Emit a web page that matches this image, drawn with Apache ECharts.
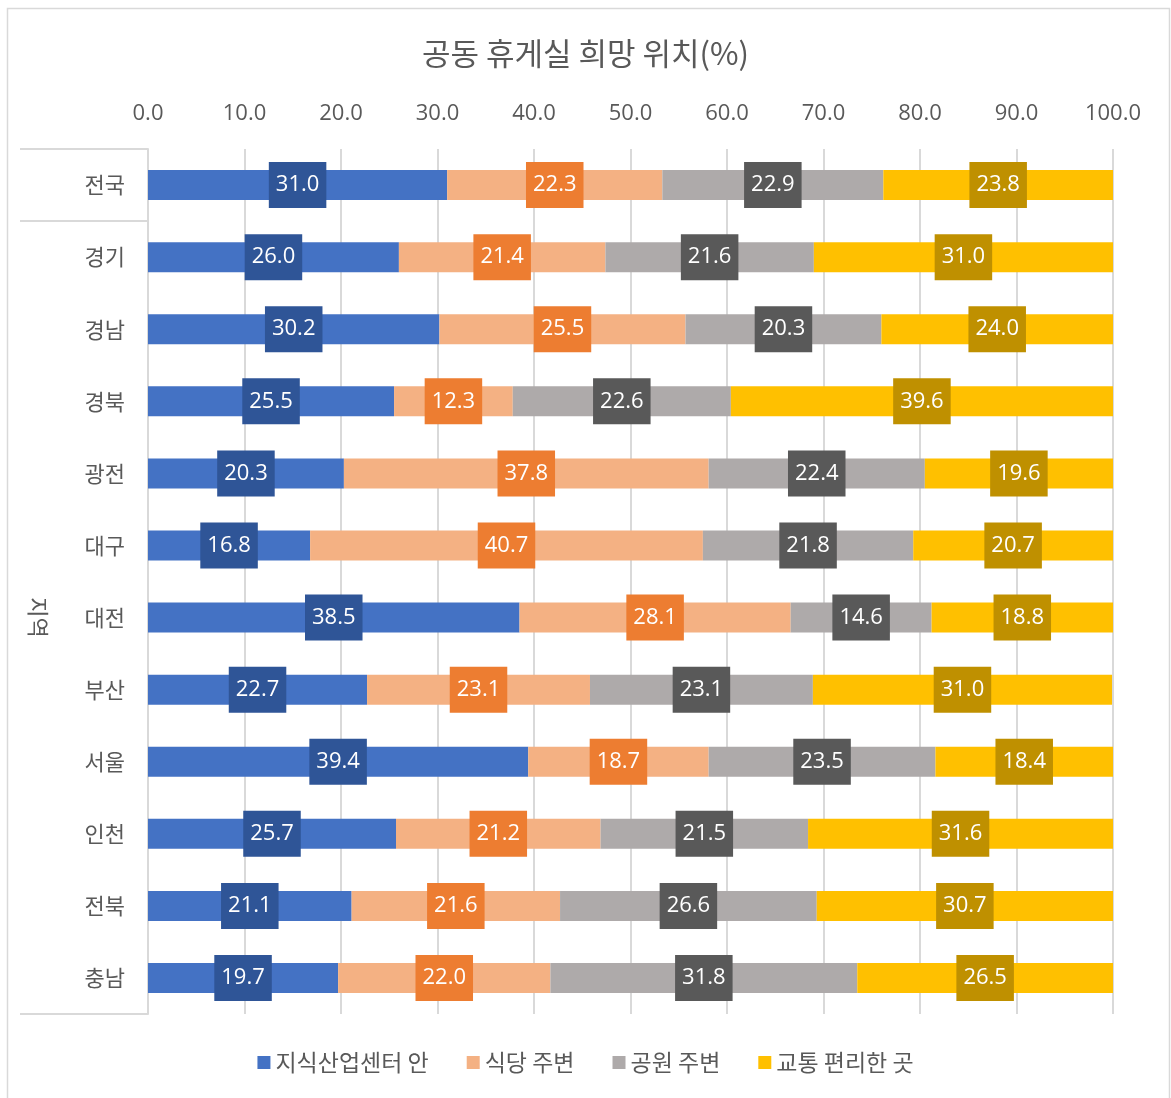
<!DOCTYPE html>
<html>
<head>
<meta charset="utf-8">
<script src="https://cdn.jsdelivr.net/npm/echarts@6/dist/echarts.min.js"></script>
<style>
html,body{margin:0;padding:0;background:#fff;}
#c{width:1171px;height:1098px;}
</style>
</head>
<body>
<div id="c"></div>
<script>
const title = '공동 휴게실 희망 위치(%)';
const categories = ['전국','경기','경남','경북','광전','대구','대전','부산','서울','인천','전북','충남'];
const seriesNames = ['지식산업센터 안','식당 주변','공원 주변','교통 편리한 곳'];
const s1 = [31.0,26.0,30.2,25.5,20.3,16.8,38.5,22.7,39.4,25.7,21.1,19.7];
const s2 = [22.3,21.4,25.5,12.3,37.8,40.7,28.1,23.1,18.7,21.2,21.6,22.0];
const s3 = [22.9,21.6,20.3,22.6,22.4,21.8,14.6,23.1,23.5,21.5,26.6,31.8];
const s4 = [23.8,31.0,24.0,39.6,19.6,20.7,18.8,31.0,18.4,31.6,30.7,26.5];
const axisName = '지역';

const barColors = ['#4472C4','#F4B183','#AEAAAA','#FFC000'];
const labelBg = ['#2F5597','#ED7D31','#595959','#BF9000'];
const FONT = "'Open Sans','Noto Sans CJK KR',sans-serif";
const KFONT = "'Noto Sans CJK KR','Open Sans',sans-serif";

const chart = echarts.init(document.getElementById('c'));
const data = [s1,s2,s3,s4];
const option = {
  animation:false,
  title:{text:title,left:'center',top:33,textStyle:{fontFamily:KFONT,fontSize:31,fontWeight:'normal',color:'#595959'}},
  legend:{bottom:19,left:'center',itemWidth:13,itemHeight:13,itemGap:38,icon:'rect',
    textStyle:{fontFamily:KFONT,fontSize:23,color:'#595959',padding:[0,0,0,0]},data:seriesNames},
  grid:{left:148,right:58,top:149,bottom:84},
  xAxis:{type:'value',position:'top',min:0,max:100,interval:10,
    axisLine:{show:false},axisTick:{show:false},
    splitLine:{lineStyle:{color:'#d9d9d9',width:2}},
    axisLabel:{margin:24,fontFamily:FONT,fontSize:22,color:'#595959',formatter:v=>v.toFixed(1)}},
  yAxis:{type:'category',inverse:true,data:categories,
    axisLine:{lineStyle:{color:'#d9d9d9',width:2}},axisTick:{show:false},
    axisLabel:{margin:23,fontFamily:KFONT,fontSize:22,color:'#595959'}},
  series:data.map((d,i)=>({
    name:seriesNames[i],type:'bar',stack:'t',barWidth:30,
    itemStyle:{color:barColors[i]},
    data:d,
    label:{show:true,position:'inside',formatter:p=>p.value.toFixed(1),
      color:'#fff',fontFamily:FONT,fontSize:22,lineHeight:22,
      backgroundColor:labelBg[i],padding:[14,7,10,7]}
  }))
};
chart.setOption(option);

// decorations: category group separators and axis title
const xAxisLeft = chart.convertToPixel({xAxisIndex:0},0);
const band = chart.convertToPixel({yAxisIndex:0},categories[1]) - chart.convertToPixel({yAxisIndex:0},categories[0]);
const yTop = chart.convertToPixel({yAxisIndex:0},categories[0]) - band/2;
const ySep = chart.convertToPixel({yAxisIndex:0},categories[1]) - band/2;
const yBot = chart.convertToPixel({yAxisIndex:0},categories[categories.length-1]) + band/2;
const lineStyle = {stroke:'#d9d9d9',lineWidth:2};
chart.setOption({graphic:[
  {type:'rect',shape:{x:7.5,y:8.5,width:1162,height:1100},style:{fill:null,stroke:'#d9d9d9',lineWidth:1.5},silent:true},
  {type:'line',shape:{x1:20,y1:yTop,x2:xAxisLeft,y2:yTop},style:lineStyle},
  {type:'line',shape:{x1:20,y1:ySep,x2:xAxisLeft,y2:ySep},style:lineStyle},
  {type:'line',shape:{x1:20,y1:yBot,x2:xAxisLeft,y2:yBot},style:lineStyle},
  {type:'text',x:38,y:(ySep+yBot)/2,rotation:-Math.PI/2,
    style:{text:axisName,fontFamily:KFONT,fontSize:22,fill:'#595959',align:'center',verticalAlign:'middle'}}
]});
</script>
</body>
</html>
